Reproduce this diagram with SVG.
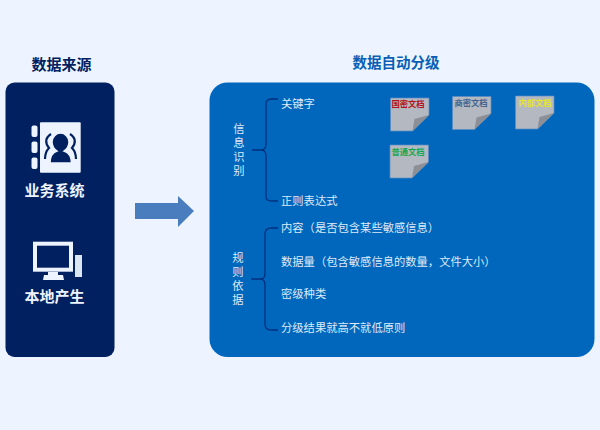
<svg xmlns="http://www.w3.org/2000/svg" width="600" height="430" viewBox="0 0 600 430">
<defs>
<style>
text{font-family:"Noto Sans CJK SC","Liberation Sans",sans-serif}
.h{font-size:15px;font-weight:700;fill:#012060;text-anchor:middle}
.h2{font-size:14.500px;font-weight:700;fill:#0a5fb5;text-anchor:middle}
.w{font-size:15px;font-weight:700;fill:#eef4ff;text-anchor:middle}
.t{font-size:11.300px;fill:#dfeaf8}
.v{writing-mode:vertical-rl;letter-spacing:2.600px}
.doc{fill:#b4b8c0;stroke:#5b8cc4;stroke-width:.7}
.fold{fill:#8c8f96}
.dt{font-size:8.300px;font-weight:700;text-anchor:middle}
.br{fill:none;stroke:#01307f;stroke-width:1.300}
</style>
<g id="docShape">
<path class="doc" d="M0 0H38.500V17L22 33H0Z"/>
<path class="fold" d="M38.500 17L22 33L24 21Z"/>
</g>
</defs>
<rect width="600" height="430" fill="#edf4ff"/>
<text class="h" x="61.500" y="70">数据来源</text>
<text class="h2" x="396" y="68">数据自动分级</text>
<g id="source-panel">
<rect x="5.500" y="82.500" width="109" height="274.500" rx="9" fill="#012060"/>
</g>
<g id="business-system">
<rect x="31.500" y="125.500" width="6" height="11.500" rx="2" fill="#edf4ff"/>
<rect x="31.500" y="141.500" width="6" height="11.500" rx="2" fill="#edf4ff"/>
<rect x="31.500" y="157.500" width="6" height="11.500" rx="2" fill="#edf4ff"/>
<rect x="40" y="122.300" width="40.700" height="50.500" rx="1" fill="#edf4ff"/>
<path d="M51 134c-6 4-6 9-2 14-3 3-4 7-4 11M70 134c6 4 6 9 2 14 3 3 4 7 4 11" fill="none" stroke="#012060" stroke-width="2.200"/>
<path d="M50 163c0-8 4-11 7-12-3-2-5-5-5-9 0-5 4-9 8.500-9s8.500 4 8.500 9c0 4-2 7-5 9 3 1 7.500 4 7.500 12Z" fill="#012060" stroke="#edf4ff" stroke-width="1.500"/>
<text class="w" x="54.500" y="196">业务系统</text>
</g>
<g id="local-generation">
<rect x="35" y="243.700" width="36" height="26" fill="none" stroke="#edf4ff" stroke-width="4"/>
<path d="M48 272H58V275H63L64 280H43L44 275H48Z" fill="#edf4ff"/>
<rect x="75" y="255" width="7" height="22" fill="#dbe6f5"/>
<text class="w" x="54.500" y="302">本地产生</text>
</g>
<g id="classification-panel">
<rect x="209.500" y="82.500" width="385" height="274.500" rx="18" fill="#0067bd"/>
</g>
<g id="connectors">
<path d="M135 203H178V196L194 211L178 227V219H135Z" fill="#4a7dbd"/>
<path class="br" d="M278 99H272Q266 99 266 104V144Q266 150 261 150H252H261Q266 150 266 156V197Q266 201 272 201H278"/>
<path class="br" d="M278 228H271Q265 228 265 234V274Q265 279 260 279H251H260Q265 279 265 285V324Q265 330 271 330H278"/>
</g>
<g id="info-identification">
<text class="t v" x="239" y="123">信息识别</text>
<text class="t" x="281" y="108">关键字</text>
<text class="t" x="281" y="205">正则表达式</text>
</g>
<g id="docs">
<use href="#docShape" x="390.500" y="98"/>
<text class="dt" x="408" y="106.500" fill="#b5121b">国密文档</text>
<use href="#docShape" x="452.500" y="96.500"/>
<text class="dt" x="471" y="105.500" fill="#44648e">商密文档</text>
<use href="#docShape" x="515.500" y="96"/>
<text class="dt" x="535" y="105.500" fill="#e6e62a">内部文档</text>
<use href="#docShape" x="390" y="145"/>
<text class="dt" x="408" y="155" fill="#16a850">普通文档</text>
</g>
<g id="rule-basis">
<text class="t v" x="238" y="252">规则依据</text>
<text class="t" x="281" y="232">内容（是否包含某些敏感信息）</text>
<text class="t" x="281" y="266">数据量（包含敏感信息的数量，文件大小）</text>
<text class="t" x="281" y="298">密级种类</text>
<text class="t" x="281" y="332">分级结果就高不就低原则</text>
</g>
</svg>
